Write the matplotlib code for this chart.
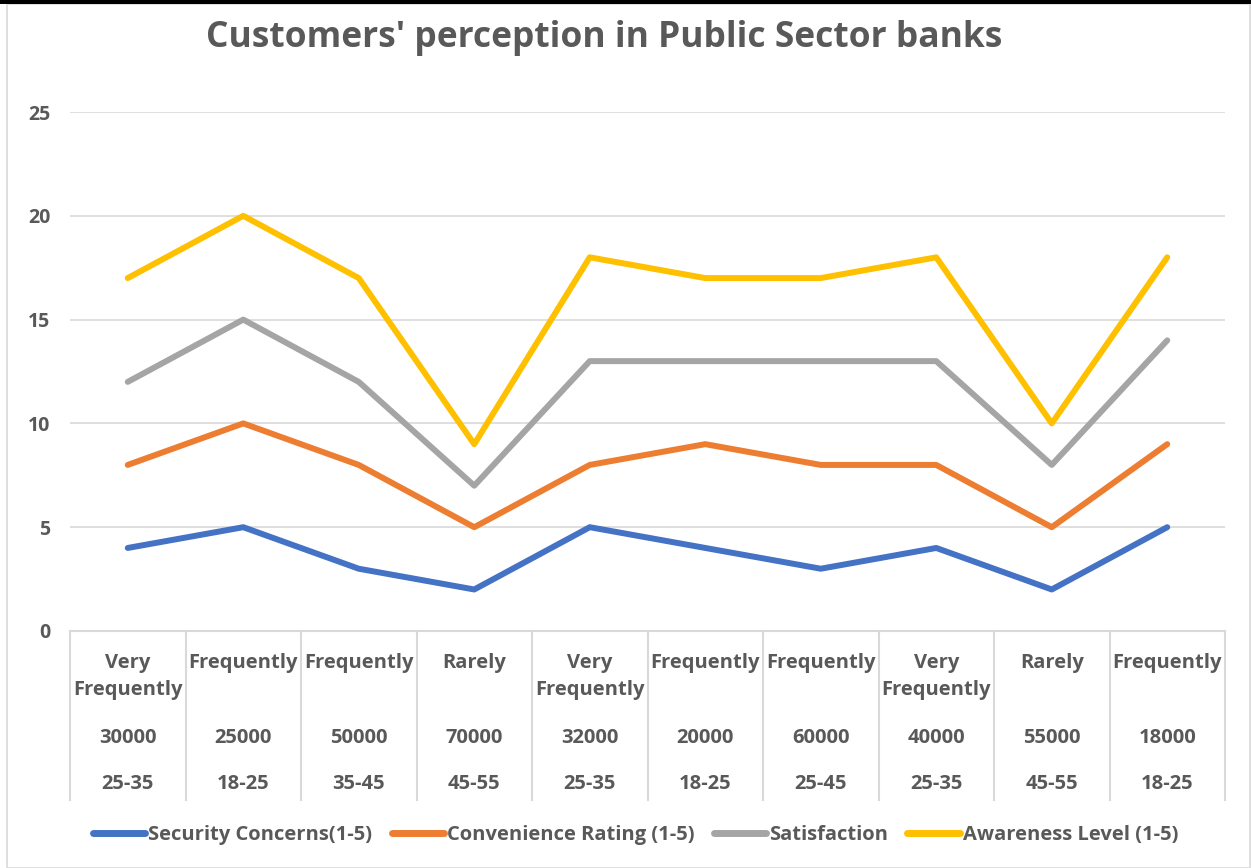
import matplotlib
matplotlib.use('Agg')
import matplotlib.pyplot as plt
from matplotlib.lines import Line2D
from matplotlib.patches import Rectangle
import numpy as np

plt.rcParams['font.family'] = ['Open Sans', 'DejaVu Sans']

# category levels (outer to inner as shown top to bottom)
frequency = ['Very\nFrequently', 'Frequently', 'Frequently', 'Rarely', 'Very\nFrequently',
             'Frequently', 'Frequently', 'Very\nFrequently', 'Rarely', 'Frequently']
income = ['30000', '25000', '50000', '70000', '32000', '20000', '60000', '40000', '55000', '18000']
age = ['25-35', '18-25', '35-45', '45-55', '25-35', '18-25', '25-45', '25-35', '45-55', '18-25']

# stacked line series (raw values)
security = [4, 5, 3, 2, 5, 4, 3, 4, 2, 5]
convenience = [4, 5, 5, 3, 3, 5, 5, 4, 3, 4]
satisfaction = [4, 5, 4, 2, 5, 4, 5, 5, 3, 5]
awareness = [5, 5, 5, 2, 5, 4, 4, 5, 2, 4]

series_names = ['Security Concerns(1-5)', 'Convenience Rating (1-5)', 'Satisfaction', 'Awareness Level (1-5)']
colors = ['#4472C4', '#ED7D31', '#A5A5A5', '#FFC000']
text_color = '#595959'

W, H = 1251, 868
fig = plt.figure(figsize=(W / 100, H / 100), dpi=100)

ax_left, ax_right = 70 / W, 1225 / W
ax_bottom, ax_top = 1 - 631 / H, 1 - 112 / H
ax = fig.add_axes([ax_left, ax_bottom, ax_right - ax_left, ax_top - ax_bottom])

n = len(security)
x = np.arange(n)
stacked = np.cumsum(np.array([security, convenience, satisfaction, awareness]), axis=0)

for vals, c, name in zip(stacked, colors, series_names):
    ax.plot(x, vals, color=c, lw=4.3, solid_capstyle='round', solid_joinstyle='round', label=name)

ax.set_xlim(-0.5, n - 0.5)
ax.set_ylim(0, 25)
ax.set_yticks([0, 5, 10, 15, 20, 25])
ax.yaxis.grid(True, color='#D9D9D9', lw=1.2)
ax.set_axisbelow(True)
for s in ['top', 'right', 'left']:
    ax.spines[s].set_visible(False)
ax.spines['bottom'].set_color('#D9D9D9')
ax.spines['bottom'].set_linewidth(1.5)
ax.tick_params(axis='y', length=0, pad=14, labelsize=14, labelcolor=text_color)
for t in ax.get_yticklabels():
    t.set_fontweight('bold')
ax.set_xticks([])

# multi-level category table below the axis
trans = ax.get_xaxis_transform()
y_line_bot = -(800 - 631) / (631 - 112)
for b in np.arange(n + 1) - 0.5:
    ax.plot([b, b], [0, y_line_bot], transform=trans, color='#D9D9D9', lw=1.5, clip_on=False)

def ypos(py):
    return -(py - 631) / (631 - 112)

for i in range(n):
    ax.text(i, ypos(653), frequency[i], transform=trans, ha='center', va='top',
            fontsize=14.5, fontweight='bold', color=text_color, linespacing=1.45)
    ax.text(i, ypos(738), income[i], transform=trans, ha='center', va='center',
            fontsize=14.5, fontweight='bold', color=text_color)
    ax.text(i, ypos(784), age[i], transform=trans, ha='center', va='center',
            fontsize=14.5, fontweight='bold', color=text_color)

fig.text(0.483, 1 - 38 / H, "Customers' perception in Public Sector banks", ha='center', va='center',
         fontsize=25.5, fontweight='bold', color=text_color)

handles = [Line2D([], [], color=c, lw=5, solid_capstyle='round') for c in colors]
leg = fig.legend(handles, series_names, loc='center', bbox_to_anchor=(0.508, 1 - 835 / H), ncol=4,
                 frameon=False, handlelength=2.6, handletextpad=0.15, columnspacing=0.95,
                 prop={'size': 14.5, 'weight': 'bold'})
for t in leg.get_texts():
    t.set_color(text_color)

# chart frame
fig.patches.append(Rectangle((7 / W, 0), 1 - 8 / W, 1 - 4 / H, transform=fig.transFigure,
                             fill=False, edgecolor='#D9D9D9', lw=1.2))
fig.patches.append(Rectangle((0, 1 - 4 / H), 1, 4 / H, transform=fig.transFigure,
                             facecolor='black', edgecolor='none'))

fig.savefig('out.png', dpi=100)
